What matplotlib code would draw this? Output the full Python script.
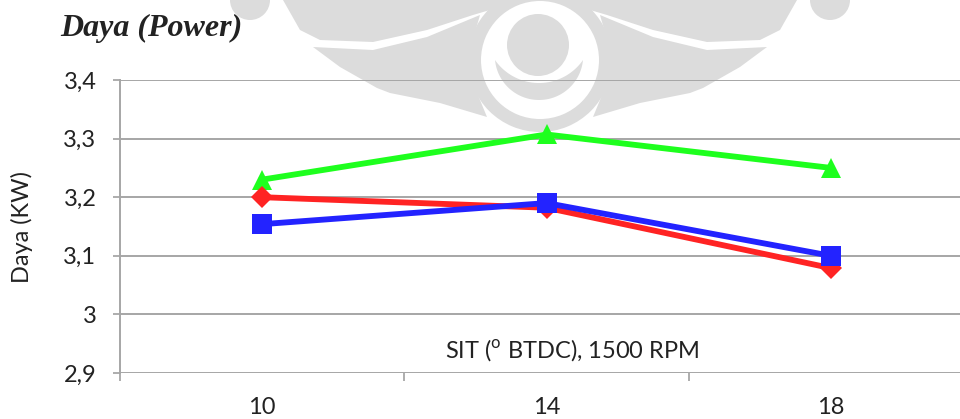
import numpy as np
import matplotlib
matplotlib.use("Agg")
import matplotlib.pyplot as plt
from matplotlib.patches import Circle, Wedge, Polygon

# Data
sit_labels = ["10", "14", "18"]
power_green = [3.23, 3.307, 3.25]
power_red = [3.20, 3.182, 3.079]
power_blue = [3.154, 3.19, 3.10]
y_ticks = [2.9, 3.0, 3.1, 3.2, 3.3, 3.4]
y_tick_labels = ["2,9", "3", "3,1", "3,2", "3,3", "3,4"]

W, H = 960, 419
fig = plt.figure(figsize=(W / 100, H / 100), dpi=100)
fig.patch.set_facecolor("white")

# Faint emblem in the background (pixel coordinates, y downward)
bg = fig.add_axes([0, 0, 1, 1], zorder=0)
bg.set_xlim(0, W)
bg.set_ylim(H, 0)
bg.axis("off")
wm = "#dcdcdc"
cx = 540
bg.add_patch(Wedge((cx, 60), 72, 0, 360, width=13, color=wm, lw=0))
bg.add_patch(Circle((538, 45), 31, color=wm, lw=0))
t = np.linspace(np.arccos(-44 / 44.2), np.arccos(44 / 44.2), 60)
outer = np.c_[539 + 44.2 * np.cos(t), 55.8 + 44.2 * np.sin(t)]
t2 = np.linspace(np.arccos(44 / 53.6), np.arccos(-44 / 53.6), 60)
inner = np.c_[539 + 53.6 * np.cos(t2), 29.4 + 53.6 * np.sin(t2)]
bg.add_patch(Polygon(np.vstack([outer, inner]), closed=True, color=wm, lw=0))
upper_wing = np.array([(283, 0), (300, 30), (320, 40), (373, 42), (427, 30),
                       (473, 15), (500, 7), (505, 0)])
lower_wing = np.array([(313, 47), (373, 50), (427, 37), (480, 15), (470, 50),
                       (473, 83), (487, 117), (440, 103), (390, 93), (377, 88),
                       (340, 67)])
for pts in (upper_wing, lower_wing):
    bg.add_patch(Polygon(pts, closed=True, color=wm, lw=0))
    mirrored = pts.copy().astype(float)
    mirrored[:, 0] = 2 * cx - mirrored[:, 0]
    bg.add_patch(Polygon(mirrored, closed=True, color=wm, lw=0))
bg.add_patch(Circle((250, 0), 20, color=wm, lw=0))
bg.add_patch(Circle((2 * cx - 250, 0), 20, color=wm, lw=0))

# Main chart
left, right, top, bottom = 120, 973, 80, 373
ax = fig.add_axes([left / W, 1 - bottom / H, (right - left) / W, (bottom - top) / H],
                  zorder=1)
ax.set_facecolor("none")

x = np.arange(len(sit_labels))
ax.plot(x, power_green, color="#1eff1e", lw=4.2, marker="^", ms=15,
        markeredgewidth=0, zorder=3, clip_on=False)
ax.plot(x, power_red, color="#ff2323", lw=4.2, marker="D", ms=11,
        markeredgewidth=0, zorder=4, clip_on=False)
ax.plot(x, power_blue, color="#2323ff", lw=4.2, marker="s", ms=14.5,
        markeredgewidth=0, zorder=5, clip_on=False)

ax.set_xlim(-0.5, 2.5)
ax.set_ylim(2.9, 3.4)

font = ["Lato", "DejaVu Sans"]
fs = 17
ax.set_yticks(y_ticks)
ax.set_yticklabels(y_tick_labels, family=font, fontsize=fs, color="#222222")
ax.set_xticks(x)
ax.set_xticklabels(sit_labels, family=font, fontsize=fs, color="#222222")
ax.set_xticks([-0.5, 0.5, 1.5, 2.5], minor=True)
ax.tick_params(axis="x", which="major", length=0, pad=17)
ax.tick_params(axis="x", which="minor", length=6, width=1.2, color="#a0a0a0",
               direction="out")
ax.tick_params(axis="y", length=5, width=1.2, color="#a0a0a0", pad=12)

ax.grid(axis="y", color="#a6a6a6", lw=1.4, zorder=1)
for s in ("top", "right", "bottom"):
    ax.spines[s].set_visible(False)
ax.spines["left"].set_color("#a6a6a6")
ax.spines["left"].set_linewidth(1.4)

ax.set_ylabel("Daya (KW)", family=font, fontsize=fs, color="#222222")
ax.yaxis.set_label_coords(-0.102, 0.5)

fig.text(572 / W, 1 - 350 / H, r"SIT ($^{\mathregular{o}}$ BTDC), 1500 RPM",
         family=font, fontsize=fs, color="#222222", ha="center", va="center")

fig.text(60 / W, 1 - 36 / H, "Daya (Power)", family="Liberation Serif",
         fontsize=23, fontweight="bold", fontstyle="italic", color="#222222",
         ha="left", va="baseline")

fig.savefig("out.png", dpi=100)
